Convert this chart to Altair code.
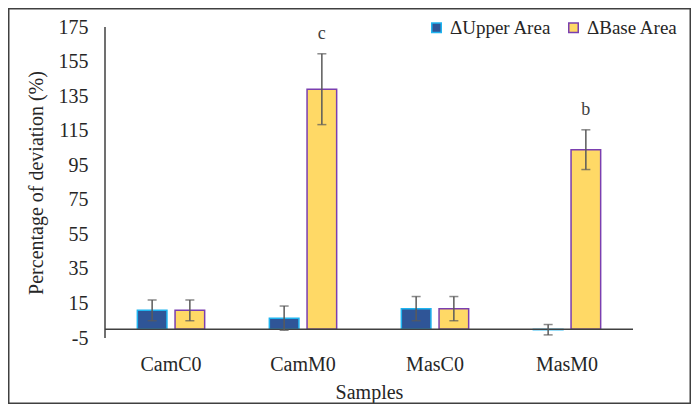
import altair as alt
import pandas as pd

samples = ["CamC0", "CamM0", "MasC0", "MasM0"]
series = ["ΔUpper Area", "ΔBase Area"]
upper_vals = [11, 6.5, 12, -0.2]
upper_err = [6, 7, 7, 3]
base_vals = [11, 139, 12, 104]
base_err = [6, 20.5, 7, 11.5]
base_labels = ["", "c", "", "b"]
y_ticks = [-5, 15, 35, 55, 75, 95, 115, 135, 155, 175]

rows = []
for i, s in enumerate(samples):
    rows.append(dict(sample=s, series=series[0], value=upper_vals[i], err=upper_err[i], label=""))
    rows.append(dict(sample=s, series=series[1], value=base_vals[i], err=base_err[i], label=base_labels[i]))
df = pd.DataFrame(rows)
df["lo"] = df["value"] - df["err"]
df["hi"] = df["value"] + df["err"]

W, H = 528, 311
PL, PT, PR, PB = 97, 19, 58, 66
YT = "Percentage of deviation (%)"

fills = ["#2F5597", "#FFD966"]
strokes = ["#1FB4F0", "#7A3FB0"]

x_axis = alt.Axis(labelAngle=0, domain=False, ticks=False, labelPadding=16,
                  titlePadding=8, labelFontSize=20, titleFontSize=20)
x_enc = alt.X("sample:N", sort=samples, title="Samples",
              scale=alt.Scale(paddingInner=0.49, paddingOuter=0.245), axis=x_axis)
xoff = alt.XOffset("series:N", sort=series, scale=alt.Scale(paddingInner=0.215, paddingOuter=0))
y_scale = alt.Scale(domain=[-5, 175], nice=False, zero=False)
y_axis = alt.Axis(values=y_ticks, grid=False, ticks=False, labelPadding=17, labelOverlap=False,
                  labelExpr="replace(datum.label, '−', '-')",
                  domain=False, titlePadding=12,
                  labelFontSize=20, titleFontSize=20)

def Y(field):
    return alt.Y(field, scale=y_scale, axis=y_axis, title=YT)

leg = alt.Legend(orient="none", legendX=322, legendY=-9, direction="horizontal", title=None,
                 symbolType="square", symbolSize=90, symbolStrokeWidth=1.5, padding=0,
                 labelFontSize=19, columnPadding=12, labelOffset=4)

base = alt.Chart(df)

bars = base.mark_bar(strokeWidth=1.5).encode(
    x=x_enc, xOffset=xoff,
    y=Y("value:Q"),
    y2=alt.datum(0),
    fill=alt.Fill("series:N", sort=series, scale=alt.Scale(domain=series, range=fills), legend=leg),
    stroke=alt.Stroke("series:N", sort=series, scale=alt.Scale(domain=series, range=strokes), legend=leg),
)

zero = alt.Chart(pd.DataFrame({"v": [0]})).mark_rule(color="#404040", strokeWidth=1.5).encode(
    y=Y("v:Q"), x=alt.value(0), x2=alt.value(W))

yline = alt.Chart(pd.DataFrame({"v": [0]})).mark_rule(color="#404040", strokeWidth=1.5).encode(
    x=alt.value(0), y=alt.value(0), y2=alt.value(H))

errs = base.mark_rule(color="#5a5a5a", strokeWidth=1.5).encode(
    x=x_enc, xOffset=xoff, y=Y("lo:Q"), y2="hi:Q")
cap_lo = base.mark_tick(color="#5a5a5a", size=9, thickness=1.5).encode(
    x=x_enc, xOffset=xoff, y=Y("lo:Q"))
cap_hi = base.mark_tick(color="#5a5a5a", size=9, thickness=1.5).encode(
    x=x_enc, xOffset=xoff, y=Y("hi:Q"))
letters = base.mark_text(fontSize=18, color="#404040", dy=-11, baseline="bottom").encode(
    x=x_enc, xOffset=xoff, y=Y("hi:Q"), text="label:N")

border = alt.Chart(pd.DataFrame({"v": [0]})).mark_rect(
    filled=False, stroke="#404040", strokeWidth=1.5).encode(
    x=alt.value(-PL + 0.75), x2=alt.value(W + PR - 0.75),
    y=alt.value(-PT + 0.75), y2=alt.value(H + PB - 0.75))

chart = alt.layer(bars, zero, yline, errs, cap_lo, cap_hi, letters, border).properties(
    width=W, height=H,
    autosize=alt.AutoSizeParams(type="none"),
    padding={"left": PL, "top": PT, "right": PR, "bottom": PB},
).configure(font="Liberation Serif").configure_view(stroke=None).configure_axis(
    labelColor="#262626", titleColor="#262626", labelFontWeight="normal", titleFontWeight="normal"
).configure_legend(labelColor="#262626")

chart.save("out.html", embed_options={"renderer": "svg", "actions": False})
